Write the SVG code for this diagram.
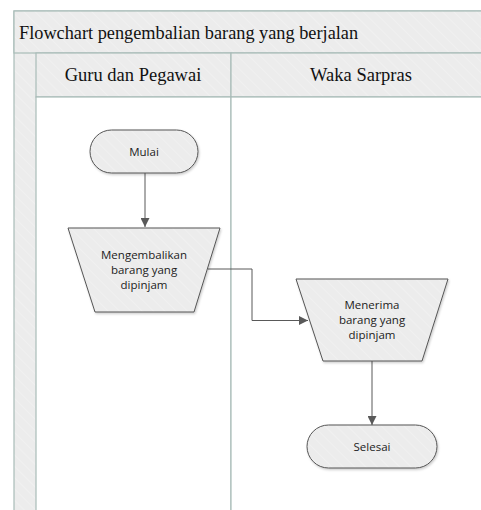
<svg xmlns="http://www.w3.org/2000/svg" width="481" height="510" viewBox="0 0 481 510">
<defs>
<pattern id="hatch" width="8" height="8" patternUnits="userSpaceOnUse" patternTransform="rotate(-45)">
<rect width="8" height="8" fill="#ececec"/>
<line x1="0" y1="0" x2="0" y2="8" stroke="#f4f4f4" stroke-width="1.2"/>
</pattern>
<marker id="arr" viewBox="0 0 10 10" refX="10" refY="5" markerWidth="9" markerHeight="9" markerUnits="userSpaceOnUse" orient="auto">
<path d="M0,0 L10,5 L0,10 z" fill="#595959"/>
</marker>
<filter id="sh" x="-10%" y="-10%" width="130%" height="130%">
<feDropShadow dx="1" dy="1.5" stdDeviation="1.2" flood-color="#000" flood-opacity="0.2"/>
</filter>
</defs>
<style>
.band{fill:url(#hatch);stroke:#a9bcb8;stroke-width:1.2}
.lane{fill:#ffffff;stroke:#a9bcb8;stroke-width:1.2}
.hdr{font-family:"Liberation Serif",serif;fill:#111}
.node{fill:url(#hatch);stroke:#555;stroke-width:1;filter:url(#sh)}
.lbl{font-family:"Open Sans","Noto Sans",sans-serif;font-size:11.5px;fill:#222;text-anchor:middle}
.conn{fill:none;stroke:#595959;stroke-width:1}
</style>
<g id="pool">
<rect class="band" x="14" y="11" width="480" height="510"/>
<rect class="band" x="14" y="11" width="480" height="42"/>
<rect class="band" x="36" y="53" width="195" height="44"/>
<rect class="band" x="231" y="53" width="263" height="44"/>
<rect class="lane" x="36" y="97" width="195" height="430"/>
<rect class="lane" x="231" y="97" width="263" height="430"/>
<text class="hdr" x="19" y="39" font-size="18.3">Flowchart pengembalian barang yang berjalan</text>
<text class="hdr" x="133" y="81" font-size="18.5" text-anchor="middle">Guru dan Pegawai</text>
<text class="hdr" x="361" y="81" font-size="18.5" text-anchor="middle">Waka Sarpras</text>
</g>
<g id="connectors">
<path class="conn" d="M145,173 V227" marker-end="url(#arr)"/>
<path class="conn" d="M208,269 H252 V320.5 H308" marker-end="url(#arr)"/>
<path class="conn" d="M372,361 V425" marker-end="url(#arr)"/>
</g>
<g id="mulai">
<rect class="node" x="90" y="130" width="108" height="43" rx="21.5"/>
<text class="lbl" x="144" y="155.5">Mulai</text>
</g>
<g id="mengembalikan">
<polygon class="node" points="68,228 220,228 194,312 95,312"/>
<text class="lbl" x="144" y="259">Mengembalikan</text>
<text class="lbl" x="144" y="274">barang yang</text>
<text class="lbl" x="144" y="289">dipinjam</text>
</g>
<g id="menerima">
<polygon class="node" points="296,279 448,279 422,361 323,361"/>
<text class="lbl" x="372" y="309">Menerima</text>
<text class="lbl" x="372" y="324">barang yang</text>
<text class="lbl" x="372" y="339">dipinjam</text>
</g>
<g id="selesai">
<rect class="node" x="307" y="425" width="130" height="43" rx="21.5"/>
<text class="lbl" x="372" y="450.5">Selesai</text>
</g>
</svg>
